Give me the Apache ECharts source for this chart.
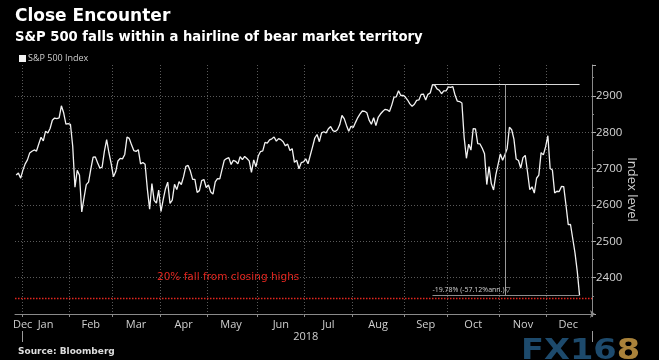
<!DOCTYPE html>
<html>
<head>
<meta charset="utf-8">
<script src="https://cdn.jsdelivr.net/npm/echarts@6/dist/echarts.min.js"></script>
<style>
html,body{margin:0;padding:0;background:#000;}
#chart{width:659px;height:360px;}
</style>
</head>
<body>
<div id="chart"></div>
<script>
// ---- Data: S&P 500 daily closes (trading days) ----
const daysDec17 = [27, 28, 29];
const closesDec17 = [2682.62, 2687.54, 2673.61];
const daysJan = [2,3,4,5,8,9,10,11,12,16,17,18,19,22,23,24,25,26,29,30,31];
const closesJan = [2695.81,2713.06,2723.99,2743.15,2747.71,2751.29,2748.23,2767.56,2786.24,2776.42,2802.56,2798.03,2810.30,2832.97,2839.13,2837.54,2839.25,2872.87,2853.53,2822.43,2823.81];
const daysFeb = [1,2,5,6,7,8,9,12,13,14,15,16,20,21,22,23,26,27,28];
const closesFeb = [2821.98,2762.13,2648.94,2695.14,2681.66,2581.00,2619.55,2656.00,2662.94,2698.63,2731.20,2732.22,2716.26,2701.33,2703.96,2747.30,2779.60,2744.28,2713.83];
const daysMar = [1,2,5,6,7,8,9,12,13,14,15,16,19,20,21,22,23,26,27,28,29];
const closesMar = [2677.67,2691.25,2720.94,2728.12,2726.80,2738.97,2786.57,2783.02,2765.31,2749.48,2747.33,2752.01,2712.92,2716.94,2711.93,2643.69,2588.26,2658.55,2612.62,2605.00,2640.87];
const daysApr = [2,3,4,5,6,9,10,11,12,13,16,17,18,19,20,23,24,25,26,27,30];
const closesApr = [2581.88,2614.45,2644.69,2662.84,2604.47,2613.16,2656.87,2642.19,2663.99,2656.30,2677.84,2706.39,2708.64,2693.13,2670.14,2670.29,2634.56,2639.40,2666.94,2669.91,2648.05];
const daysMay = [1,2,3,4,7,8,9,10,11,14,15,16,17,18,21,22,23,24,25,29,30,31];
const closesMay = [2654.80,2635.67,2629.73,2663.42,2672.63,2671.92,2697.79,2723.07,2727.72,2730.13,2711.45,2722.46,2720.13,2712.97,2733.01,2724.44,2733.29,2727.76,2721.33,2689.86,2724.01,2705.27];
const daysJun = [1,4,5,6,7,8,11,12,13,14,15,18,19,20,21,22,25,26,27,28,29];
const closesJun = [2734.62,2746.87,2748.80,2772.35,2770.37,2779.03,2782.00,2786.85,2775.63,2782.49,2779.66,2773.75,2762.59,2767.32,2749.76,2754.88,2717.07,2723.06,2699.63,2716.31,2718.37];
const daysJul = [2,3,5,6,9,10,11,12,13,16,17,18,19,20,23,24,25,26,27,30,31];
const closesJul = [2726.71,2713.22,2736.61,2759.82,2784.17,2793.84,2774.02,2798.29,2801.31,2798.43,2809.55,2815.62,2804.49,2801.83,2806.98,2820.40,2846.07,2837.44,2818.82,2802.60,2816.29];
const daysAug = [1,2,3,6,7,8,9,10,13,14,15,16,17,20,21,22,23,24,27,28,29,30,31];
const closesAug = [2813.36,2827.22,2840.35,2850.40,2858.45,2857.70,2853.58,2833.28,2821.93,2839.96,2818.37,2840.69,2850.13,2857.05,2862.96,2861.82,2856.98,2874.69,2896.74,2897.52,2914.04,2901.13,2901.52];
const daysSep = [4,5,6,7,10,11,12,13,14,17,18,19,20,21,24,25,26,27,28];
const closesSep = [2896.72,2888.60,2878.05,2871.68,2877.13,2887.89,2888.92,2904.18,2904.98,2888.80,2904.31,2907.95,2930.75,2929.67,2919.37,2915.56,2905.97,2914.00,2913.98];
const daysOct = [1,2,3,4,5,8,9,10,11,12,15,16,17,18,19,22,23,24,25,26,29,30,31];
const closesOct = [2924.59,2923.43,2925.51,2901.61,2885.57,2884.43,2880.34,2785.68,2728.37,2767.13,2750.79,2809.92,2809.21,2768.78,2767.78,2755.88,2740.69,2656.10,2705.57,2658.69,2641.25,2682.63,2711.74];
const daysNov = [1,2,5,6,7,8,9,12,13,14,15,16,19,20,21,23,26,27,28,29,30];
const closesNov = [2740.37,2723.06,2738.31,2755.45,2813.89,2806.83,2781.01,2726.22,2722.18,2701.58,2730.20,2736.27,2690.73,2641.89,2649.93,2632.56,2673.45,2682.17,2743.79,2737.80,2760.17];
const daysDec = [3,4,6,7,10,11,12,13,14,17,18,19,20,21,24,25,26,27,28,31];
const closesDec = [2790.37,2700.06,2695.95,2633.08,2637.72,2636.78,2651.07,2650.54,2599.95,2545.94,2546.16,2506.96,2467.42,2416.62,2351.10];
const monthNames = ['Jan','Feb','Mar','Apr','May','Jun','Jul','Aug','Sep','Oct','Nov','Dec'];
const yAxisTicks = [2400, 2500, 2600, 2700, 2800, 2900];

const groups = [
  ['2017-12', daysDec17, closesDec17], ['2018-01', daysJan, closesJan], ['2018-02', daysFeb, closesFeb],
  ['2018-03', daysMar, closesMar], ['2018-04', daysApr, closesApr], ['2018-05', daysMay, closesMay],
  ['2018-06', daysJun, closesJun], ['2018-07', daysJul, closesJul], ['2018-08', daysAug, closesAug],
  ['2018-09', daysSep, closesSep], ['2018-10', daysOct, closesOct], ['2018-11', daysNov, closesNov],
  ['2018-12', daysDec, closesDec]
];

const categories = [];
const values = [];
const monthStart = new Set();
const monthLabelIdx = new Set();
const shortMonthIdx = new Set();
groups.forEach(function (g) {
  const start = categories.length;
  g[1].forEach(function (d, i) {
    categories.push(g[0] + '-' + String(d).padStart(2, '0'));
    values.push(i < g[2].length ? g[2][i] : null);
  });
  const end = categories.length - 1;
  if (start > 0) monthStart.add(start);
  if (g[1].length < 5) { monthLabelIdx.add(end); shortMonthIdx.add(end); }
  else monthLabelIdx.add(Math.floor((start + end) / 2));
});
const yearStart = categories.findIndex(function (c) { return c.slice(0, 4) === '2018'; });
const yearEnd = categories.length - 1;
const yearMid = Math.floor((yearStart + yearEnd) / 2);

// Peak / drawdown measurement
let peakIdx = 0, lastIdx = 0;
values.forEach(function (v, i) {
  if (v == null) return;
  if (v > values[peakIdx]) peakIdx = i;
  lastIdx = i;
});
const peak = values[peakIdx];
const last = values[lastIdx];
const midIdx = Math.floor((peakIdx + lastIdx) / 2);
const chg = last / peak - 1;
const days = (new Date(categories[lastIdx]) - new Date(categories[peakIdx])) / 86400000;
const ann = Math.pow(1 + chg, 365 / days) - 1;
const measureText = (chg * 100).toFixed(2) + '% (' + (ann * 100).toFixed(2) + '%ann.)▽';
const bearLevel = peak * 0.8;

const FONT = '"Open Sans", "Noto Sans", sans-serif';
const BOLD = '"DejaVu Sans", sans-serif';
const chart = echarts.init(document.getElementById('chart'));
chart.setOption({
  backgroundColor: '#000',
  animation: false,
  textStyle: { fontFamily: FONT },
  title: [
    { text: 'Close Encounter', left: 10, top: 3, textStyle: { color: '#fff', fontSize: 17, fontWeight: 'bold', fontFamily: BOLD } },
    { text: 'S&P 500 falls within a hairline of bear market territory', left: 10, top: 26, textStyle: { color: '#fff', fontSize: 13.2, fontWeight: 'bold', fontFamily: BOLD } },
    { text: 'Source: Bloomberg', left: 13, top: 342, textStyle: { color: '#ddd', fontSize: 9, fontWeight: 'bold', fontFamily: BOLD } }
  ],
  legend: {
    left: 14, top: 49, icon: 'rect', itemWidth: 7, itemHeight: 7, itemGap: 4,
    textStyle: { color: '#ccc', fontSize: 9, padding: [0, 0, 0, -3] },
    data: ['S&P 500 Index']
  },
  grid: { left: 15, right: 67, top: 65, bottom: 46 },
  xAxis: [
    {
      type: 'category', data: categories, boundaryGap: true,
      axisLine: { show: true, lineStyle: { color: '#8a8a8a', width: 1 }, symbol: ['none', 'arrow'], symbolSize: [6, 5], symbolOffset: [0, 3] },
      axisTick: { show: true, interval: function (i) { return monthStart.has(i); }, length: 3, lineStyle: { color: '#8a8a8a' } },
      splitLine: { show: true, interval: function (i) { return monthStart.has(i); }, lineStyle: { color: '#5a5a5a', type: [1, 2], width: 1 } },
      axisLabel: {
        interval: function (i) { return monthLabelIdx.has(i); },
        formatter: function (v, i) {
          const m = monthNames[parseInt(v.slice(5, 7), 10) - 1];
          return shortMonthIdx.has(i) ? '{s|' + m + '}' : m;
        },
        rich: { s: { color: '#cfcfcf', fontSize: 11, padding: [0, 0, 0, 4] } },
        color: '#cfcfcf', fontSize: 11, margin: 5
      }
    },
    {
      type: 'category', data: categories, boundaryGap: false, position: 'bottom', offset: 17,
      axisLine: { show: false },
      axisTick: { show: true, interval: function (i) { return i === yearStart || i === yearEnd; }, length: 11, lineStyle: { color: '#9a9a9a', width: 1 } },
      splitLine: { show: false },
      axisLabel: {
        interval: function (i) { return i === yearMid; },
        formatter: function (v) { return v.slice(0, 4); },
        color: '#cfcfcf', fontSize: 11, margin: 0
      }
    }
  ],
  yAxis: {
    type: 'value', position: 'right', min: 2300, max: 2985, interval: 100,
    name: 'Index level', nameLocation: 'middle', nameRotate: -90, nameGap: 33, nameMoveOverlap: false,
    nameTextStyle: { color: '#cfcfcf', fontSize: 13 },
    axisLine: { show: true, lineStyle: { color: '#8a8a8a' } },
    axisTick: { show: true, length: 4, lineStyle: { color: '#aaa' } },
    minorTick: { show: true, splitNumber: 2, length: 2, lineStyle: { color: '#888' } },
    axisLabel: { color: '#d6d6d6', fontSize: 11.5, margin: 4, showMinLabel: false, showMaxLabel: false,
      formatter: function (v) { return yAxisTicks.indexOf(v) >= 0 ? String(v) : ''; } },
    splitLine: { show: true, showMinLine: false, showMaxLine: false, lineStyle: { color: '#5a5a5a', type: [1, 2] } }
  },
  series: [{
    name: 'S&P 500 Index', type: 'line', data: values, showSymbol: false, symbol: 'none',
    lineStyle: { color: '#f2f2f2', width: 1.3 }, itemStyle: { color: '#f2f2f2' },
    markLine: {
      silent: true, symbol: ['none', 'none'], animation: false,
      data: [
        { yAxis: bearLevel, lineStyle: { color: '#e3261f', type: [1.5, 1.5], width: 1.3 },
          label: { show: true, position: 'insideStartTop', formatter: '20% fall from closing highs', color: '#e3261f', fontSize: 10.5, fontFamily: '"DejaVu Sans"', distance: [142, 15] } },
        [ { coord: [peakIdx, peak], lineStyle: { color: '#d8d8d8', type: 'solid', width: 1 }, label: { show: false } }, { coord: [lastIdx, peak] } ],
        [ { coord: [midIdx, peak], lineStyle: { color: '#9a9a9a', type: 'solid', width: 1 }, label: { show: false } }, { coord: [midIdx, last] } ],
        [ { coord: [peakIdx, last], lineStyle: { color: '#8c8c8c', type: 'solid', width: 1 },
            label: { show: true, position: 'insideStartTop', formatter: measureText, color: '#cfcfcf', fontSize: 7, distance: [0, 2] } },
          { coord: [lastIdx, last] } ]
      ]
    }
  }],
  graphic: [{
    type: 'text', left: 521, top: 337, scaleX: 1.16,
    style: {
      text: '{a|FX16}{b|8}',
      rich: {
        a: { fill: '#1d4a6c', fontSize: 29, fontWeight: 'bold', fontFamily: '"DejaVu Sans"' },
        b: { fill: '#a9823a', fontSize: 29, fontWeight: 'bold', fontFamily: '"DejaVu Sans"' }
      }
    }
  }]
});
</script>
</body>
</html>
